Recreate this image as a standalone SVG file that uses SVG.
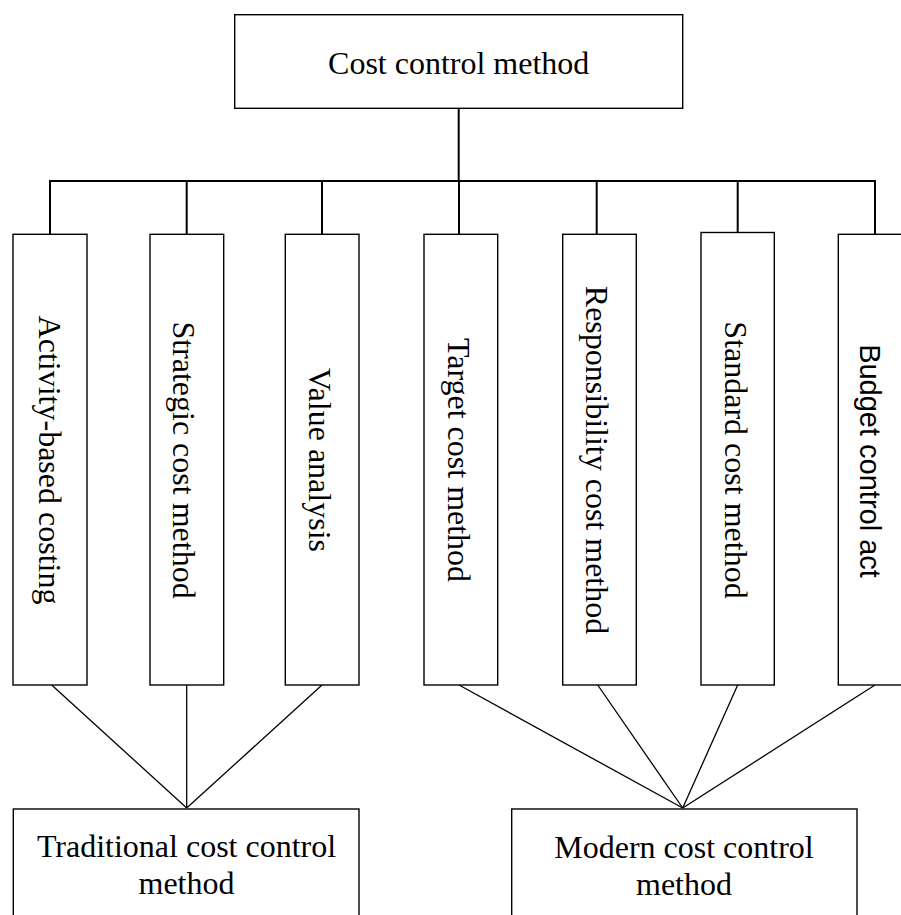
<svg xmlns="http://www.w3.org/2000/svg" width="901" height="915" viewBox="0 0 901 915">
<style>
.box{fill:#fff;stroke:#000;stroke-width:1.4}
.t{font-family:"Liberation Serif","Times New Roman",serif;font-size:32px;fill:#000}
.s{font-family:"Liberation Sans",Arial,sans-serif;font-size:29px;fill:#000}
.c{text-anchor:middle}
.bus{stroke:#000;stroke-width:2;fill:none}
.fan{stroke:#000;stroke-width:1.3;fill:none}
</style>
<rect width="901" height="915" fill="#fff"/>
<g id="connectors">
<line class="bus" x1="458.7" y1="108" x2="458.7" y2="181"/>
<line class="bus" x1="49" y1="181" x2="876" y2="181"/>
<line class="bus" x1="50" y1="181" x2="50" y2="234"/>
<line class="bus" x1="186.7" y1="181" x2="186.7" y2="234"/>
<line class="bus" x1="322" y1="181" x2="322" y2="234"/>
<line class="bus" x1="459" y1="181" x2="459" y2="234"/>
<line class="bus" x1="596.7" y1="181" x2="596.7" y2="234"/>
<line class="bus" x1="737.7" y1="181" x2="737.7" y2="234"/>
<line class="bus" x1="875" y1="181" x2="875" y2="234"/>
<line class="fan" x1="51.7" y1="685" x2="186.7" y2="808"/>
<line class="fan" x1="186.7" y1="685" x2="186.7" y2="808"/>
<line class="fan" x1="322" y1="685" x2="186.7" y2="808"/>
<line class="fan" x1="459" y1="685" x2="682.7" y2="808"/>
<line class="fan" x1="597.7" y1="685" x2="682.7" y2="808"/>
<line class="fan" x1="737.7" y1="685" x2="682.7" y2="808"/>
<line class="fan" x1="875" y1="685" x2="682.7" y2="808"/>
</g>
<g id="root">
<rect class="box" x="234.7" y="14.7" width="448" height="93.6"/>
<text class="t c" x="458.7" y="74">Cost control method</text>
</g>
<g id="n1">
<rect class="box" x="13" y="234.3" width="74" height="450.7"/>
<text class="t c" transform="translate(39,460) rotate(90)">Activity-based costing</text>
</g>
<g id="n2">
<rect class="box" x="150" y="234.3" width="73.7" height="450.7"/>
<text class="t c" transform="translate(173,460) rotate(90)">Strategic cost method</text>
</g>
<g id="n3">
<rect class="box" x="285.3" y="234.3" width="73.7" height="450.7"/>
<text class="t c" transform="translate(309,460) rotate(90)">Value analysis</text>
</g>
<g id="n4">
<rect class="box" x="424" y="234.3" width="73.7" height="450.7"/>
<text class="t c" transform="translate(448,460) rotate(90)">Target cost method</text>
</g>
<g id="n5">
<rect class="box" x="562.7" y="234.3" width="73.6" height="450.7"/>
<text class="t c" transform="translate(586,460) rotate(90)">Responsibility cost method</text>
</g>
<g id="n6">
<rect class="box" x="701" y="232.5" width="73.3" height="452.5"/>
<text class="t c" transform="translate(725,460) rotate(90)">Standard cost method</text>
</g>
<g id="n7">
<rect class="box" x="838.3" y="234.3" width="74" height="450.7"/>
<text class="s c" transform="translate(860,461) rotate(90)">Budget control act</text>
</g>
<g id="traditional">
<rect class="box" x="13.3" y="809" width="345.7" height="120"/>
<text class="t c" x="186.5" y="856.5">Traditional cost control</text>
<text class="t c" x="186.5" y="893.5">method</text>
</g>
<g id="modern">
<rect class="box" x="511.7" y="809" width="345.3" height="120"/>
<text class="t c" x="684" y="857.5">Modern cost control</text>
<text class="t c" x="684" y="894.5">method</text>
</g>
</svg>
